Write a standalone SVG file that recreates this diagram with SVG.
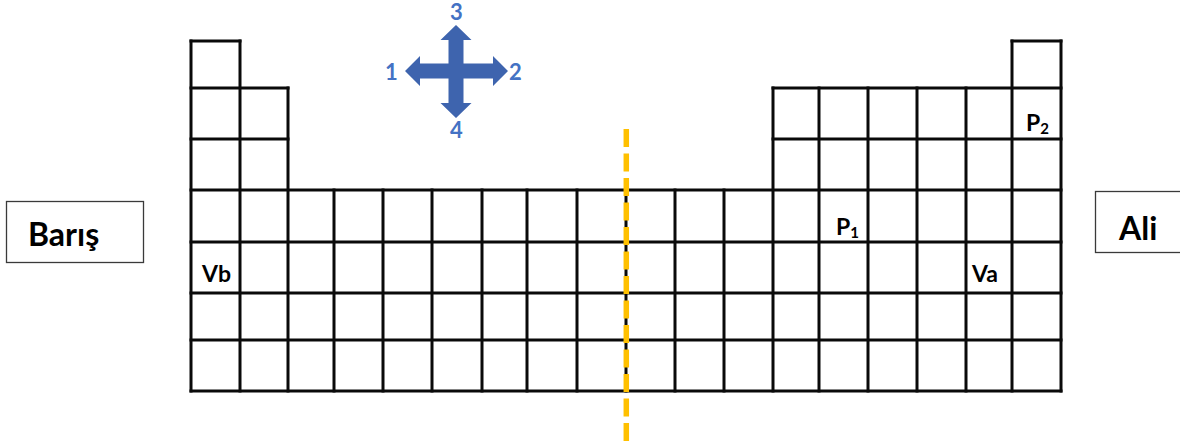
<svg xmlns="http://www.w3.org/2000/svg" width="1180" height="445" viewBox="0 0 1180 445">
  <style>
    .grid { fill: none; stroke: #0a0a0a; stroke-width: 3; stroke-linecap: square; }
    .cut { fill: none; stroke: #FFC000; stroke-width: 5.5; stroke-dasharray: 18 6.5; }
    .lbl { font-family: Lato, "Liberation Sans", sans-serif; font-weight: bold; fill: #000; font-size: 23px; }
    .sub { font-size: 15px; }
    .dir { font-family: Lato, "Liberation Sans", sans-serif; font-weight: bold; fill: #4472C4; font-size: 22px; text-anchor: middle; }
    .box { fill: #fff; stroke: #3a3a3a; stroke-width: 1.3; }
    .name { font-family: Lato, "Liberation Sans", sans-serif; font-weight: bold; fill: #000; font-size: 32px; }
  </style>

  <rect width="1180" height="445" fill="#fff"/>

  <!-- periodic-table style grid -->
  <g id="table" class="grid">
    <!-- horizontal rules -->
    <path d="M191 41H240 M1012 41H1061
             M191 88H288 M773 88H1061
             M191 139H288 M773 139H1061
             M191 190H1061 M191 242H1061 M191 293H1061 M191 340H1061 M191 391H1061"/>
    <!-- vertical rules -->
    <path d="M191 41V391 M240 41V391 M288 88V391
             M334 190V391 M383 190V391 M432 190V391 M482 190V391 M527 190V391
             M577 190V391 M626 190V391 M675 190V391 M724 190V391
             M773 88V391 M819 88V391 M868 88V391 M917 88V391 M966 88V391
             M1012 41V391 M1061 41V391"/>
  </g>

  <!-- dividing line -->
  <g id="divider">
    <line class="cut" x1="626.3" y1="129" x2="626.3" y2="443"/>
  </g>

  <!-- direction cross -->
  <g id="directions">
    <polygon fill="#3E64AE" points="456,25 471.5,40 463.5,40 463.5,63.5 493,63.5 493,56 508,71 493,86 493,78.5 463.5,78.5 463.5,103 471.5,103 456,118 440.5,103 448.5,103 448.5,78.5 420,78.5 420,86 405,71 420,56 420,63.5 448.5,63.5 448.5,40 440.5,40"/>
    <text class="dir" x="456.5" y="20">3</text>
    <text class="dir" x="391.5" y="80">1</text>
    <text class="dir" x="515.5" y="80">2</text>
    <text class="dir" x="456.5" y="138">4</text>
  </g>

  <!-- cell labels -->
  <g id="cell-vb"><text class="lbl" x="202" y="282">Vb</text></g>
  <g id="cell-va"><text class="lbl" x="972" y="281.5">Va</text></g>
  <g id="cell-p1"><text class="lbl" x="836" y="235">P<tspan class="sub" y="238">1</tspan></text></g>
  <g id="cell-p2"><text class="lbl" x="1026" y="131">P<tspan class="sub" y="133.5">2</tspan></text></g>

  <!-- side name boxes -->
  <g id="baris">
    <rect class="box" x="6.5" y="201.5" width="137" height="61"/>
    <text class="name" x="28" y="246">Barış</text>
  </g>
  <g id="ali">
    <rect class="box" x="1095.5" y="191.5" width="100" height="61"/>
    <text class="name" x="1119" y="240">Ali</text>
  </g>
</svg>
